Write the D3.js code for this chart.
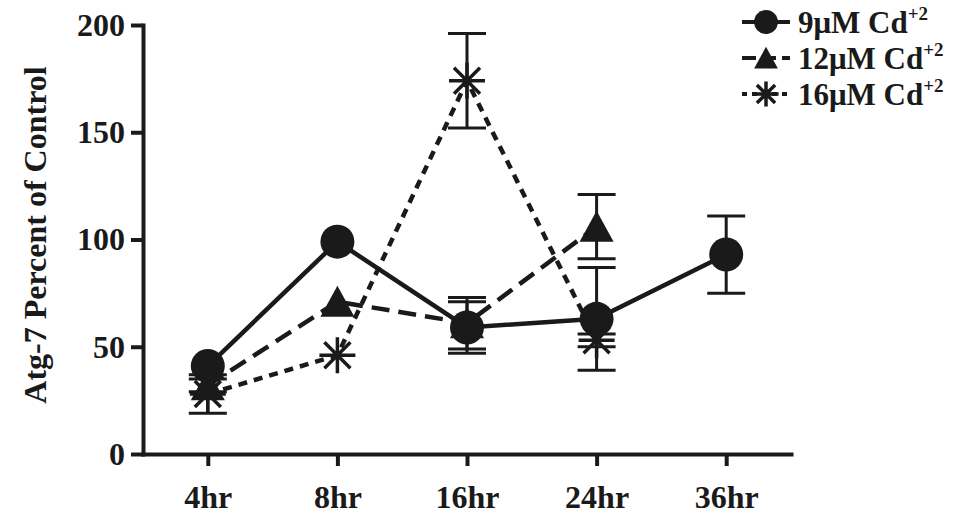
<!DOCTYPE html>
<html>
<head>
<meta charset="utf-8">
<script src="https://cdn.jsdelivr.net/npm/d3@7"></script>
<style>
  body { margin: 0; background: #fff; }
  svg text { font-family: "Liberation Serif", "Times New Roman", serif; font-weight: bold; fill: #1a1a1a; }
</style>
</head>
<body>
<div id="chart"></div>
<script>
// data
const times = ["4hr", "8hr", "16hr", "24hr", "36hr"];
const cd9 = [41, 99, 59, 63, 93];
const cd9Err = [0, 0, 12, 24, 18];
const cd12 = [32, 71, 61, 106];
const cd12Err = [3, 0, 12, 15];
const cd16 = [28, 46, 174, 53];
const cd16Err = [9, 0, 22, 3];
const yTicks = [0, 50, 100, 150, 200];
const seriesNames = ["9μM Cd", "12μM Cd", "16μM Cd"];

const width = 967, height = 514;
const ink = "#1a1a1a";

const svg = d3.select("#chart").append("svg")
    .attr("width", width)
    .attr("height", height);

const x = d3.scalePoint().domain(times).range([143, 791]).padding(0.5);
const y = d3.scaleLinear().domain([0, 200]).range([454, 25]);

// axes
const yAxis = svg.append("g")
    .attr("transform", "translate(143,0)")
    .call(d3.axisLeft(y).tickValues(yTicks).tickSize(12).tickSizeOuter(0).tickPadding(6));
const xAxis = svg.append("g")
    .attr("transform", "translate(0,454)")
    .call(d3.axisBottom(x).tickSize(12).tickSizeOuter(0).tickPadding(19));

[yAxis, xAxis].forEach(g => {
    g.select(".domain").attr("stroke", ink).attr("stroke-width", 4).attr("stroke-linecap", "square");
    g.selectAll(".tick line").attr("stroke", ink).attr("stroke-width", 4);
    g.selectAll(".tick text").attr("font-size", 32).attr("fill", ink)
        .style("font-family", "Liberation Serif").style("font-weight", "bold");
});

svg.append("text")
    .attr("transform", "translate(46,235) rotate(-90)")
    .attr("text-anchor", "middle")
    .attr("font-size", 32)
    .text("Atg-7 Percent of Control");

// marker shapes
function drawMarker(g, kind, cx, cy, s) {
    if (kind === "circle") {
        g.append("circle").attr("cx", cx).attr("cy", cy).attr("r", 17 * s).attr("fill", ink);
    } else if (kind === "triangle") {
        g.append("path")
            .attr("d", `M${cx},${cy - 16 * s}L${cx + 17 * s},${cy + 15 * s}L${cx - 17 * s},${cy + 15 * s}Z`)
            .attr("fill", ink);
    } else {
        const r = 18 * s, d = 13 * s;
        const path = `M${cx - r},${cy}H${cx + r}M${cx},${cy - r}V${cy + r}` +
            `M${cx - d},${cy - d}L${cx + d},${cy + d}M${cx - d},${cy + d}L${cx + d},${cy - d}`;
        g.append("path").attr("d", path).attr("stroke", ink).attr("stroke-width", 3.5).attr("fill", "none");
    }
}

const series = [
    { vals: cd9, err: cd9Err, kind: "circle", dash: null },
    { vals: cd12, err: cd12Err, kind: "triangle", dash: "18,9" },
    { vals: cd16, err: cd16Err, kind: "star", dash: "9,7" }
];

const line = d3.line().x((d, i) => x(times[i])).y(d => y(d));

series.forEach(s => {
    const g = svg.append("g");
    // error bars
    s.vals.forEach((v, i) => {
        if (!s.err[i]) return;
        const cx = x(times[i]);
        const top = y(v + s.err[i]), bot = y(v - s.err[i]);
        g.append("path")
            .attr("d", `M${cx},${top}V${bot}M${cx - 19},${top}H${cx + 19}M${cx - 19},${bot}H${cx + 19}`)
            .attr("stroke", ink).attr("stroke-width", 3).attr("fill", "none");
    });
    g.append("path")
        .datum(s.vals)
        .attr("d", line)
        .attr("fill", "none")
        .attr("stroke", ink)
        .attr("stroke-width", 4.5)
        .attr("stroke-dasharray", s.dash);
    s.vals.forEach((v, i) => drawMarker(g, s.kind, x(times[i]), y(v), 1));
});

// legend
const legendY = [22, 58, 94];
series.forEach((s, i) => {
    const g = svg.append("g");
    const ly = legendY[i];
    g.append("line")
        .attr("x1", 742).attr("x2", 790).attr("y1", ly).attr("y2", ly)
        .attr("stroke", ink).attr("stroke-width", 4)
        .attr("stroke-dasharray", s.dash ? (i === 1 ? "14,6" : "5,5") : null);
    drawMarker(g, s.kind, 766, ly, 0.7);
    const t = g.append("text")
        .attr("x", 798).attr("y", ly + 11)
        .attr("font-size", 31)
        .text(seriesNames[i]);
    t.append("tspan").attr("dy", -13).attr("font-size", 19).text("+2");
});
</script>
</body>
</html>
